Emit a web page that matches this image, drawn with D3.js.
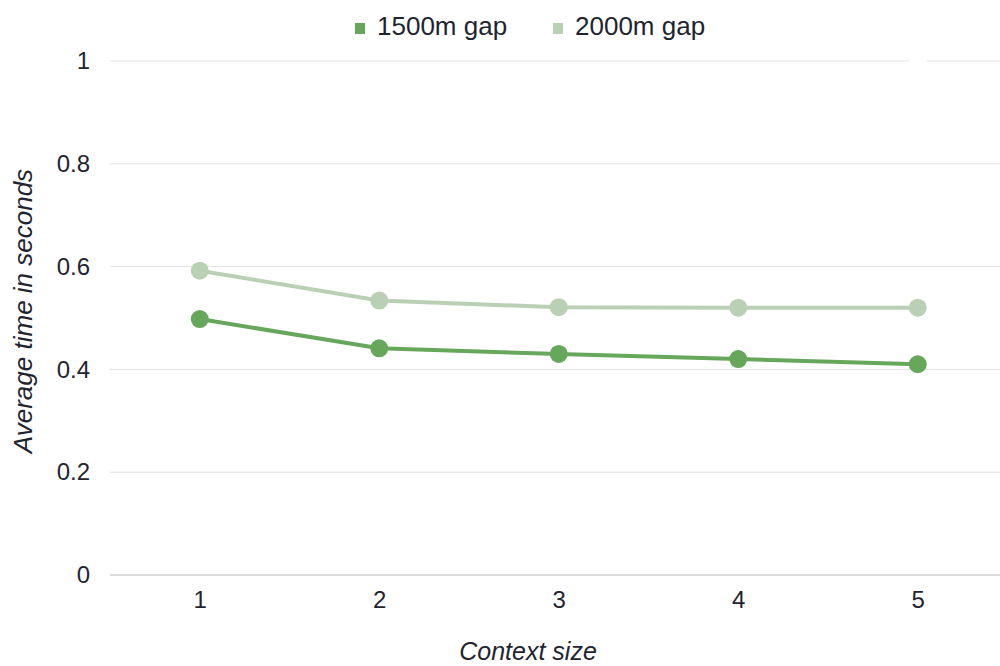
<!DOCTYPE html>
<html><head><meta charset="utf-8">
<script src="https://cdn.jsdelivr.net/npm/d3@7"></script>
<style>body{margin:0;background:#fff}text{font-family:"Liberation Sans",Arial,sans-serif}</style>
</head><body>
<svg id="c" width="1000" height="666"></svg>
<script>
const categories = [1, 2, 3, 4, 5];
const series1500 = [0.498, 0.441, 0.430, 0.420, 0.410];
const series2000 = [0.592, 0.534, 0.521, 0.520, 0.520];
const yTicks = [0, 0.2, 0.4, 0.6, 0.8, 1];
const seriesNames = ["1500m gap", "2000m gap"];
const colors = ["#67a75b", "#bad0b4"];
const textColor = "#1f2430";

const svg = d3.select("#c");
const x = d3.scalePoint().domain(categories).range([110, 1007.5]).padding(0.5);
const y = d3.scaleLinear().domain([0, 1]).range([575, 61]);

// grid
svg.append("g").selectAll("line").data(yTicks).join("line")
  .attr("x1", 110).attr("x2", 1000)
  .attr("y1", d => y(d)).attr("y2", d => y(d))
  .attr("stroke", d => d === 0 ? "#cfcfcf" : "#e3e3e3").attr("stroke-width", d => d === 0 ? 1.5 : 1);
// small gap on top gridline
svg.append("rect").attr("x", 909).attr("y", y(1) - 3).attr("width", 18).attr("height", 6).attr("fill", "#fff");

// y axis
const yAxis = d3.axisLeft(y).tickValues(yTicks).tickSize(0).tickPadding(0).tickFormat(d3.format("~g"));
const gy = svg.append("g").attr("transform", "translate(90,0)").call(yAxis);
gy.select(".domain").remove();
gy.selectAll("text").attr("font-size", 24).attr("fill", textColor).attr("font-family", '"Liberation Sans",Arial,sans-serif');

// x axis
const xAxis = d3.axisBottom(x).tickSize(0).tickPadding(0);
const gx = svg.append("g").attr("transform", "translate(0,608)").call(xAxis);
gx.select(".domain").remove();
gx.selectAll("text").attr("y", 0).attr("dy", 0).attr("font-size", 24).attr("fill", textColor).attr("font-family", '"Liberation Sans",Arial,sans-serif');

// lines
const data = [series1500, series2000];
const line = d3.line().x((d, i) => x(categories[i])).y(d => y(d));
[1, 0].forEach(k => {
  svg.append("path").datum(data[k]).attr("d", line).attr("fill", "none")
    .attr("stroke", colors[k]).attr("stroke-width", 4).attr("stroke-linejoin", "round");
  svg.append("g").selectAll("circle").data(data[k]).join("circle")
    .attr("cx", (d, i) => x(categories[i])).attr("cy", d => y(d)).attr("r", 9).attr("fill", colors[k]);
});

// axis titles
svg.append("text").attr("transform", "translate(32,311) rotate(-90)").attr("text-anchor", "middle")
  .attr("font-size", 26).attr("font-style", "italic").attr("fill", textColor).text("Average time in seconds");
svg.append("text").attr("x", 528).attr("y", 660).attr("text-anchor", "middle")
  .attr("font-size", 25).attr("font-style", "italic").attr("fill", textColor).text("Context size");

// legend
const legX = [355, 553];
seriesNames.forEach((n, i) => {
  svg.append("rect").attr("x", legX[i]).attr("y", 23).attr("width", 10).attr("height", 11).attr("fill", colors[i]);
  svg.append("text").attr("x", legX[i] + 22).attr("y", 35).attr("font-size", 26).attr("fill", textColor).text(n);
});
</script>
</body></html>
